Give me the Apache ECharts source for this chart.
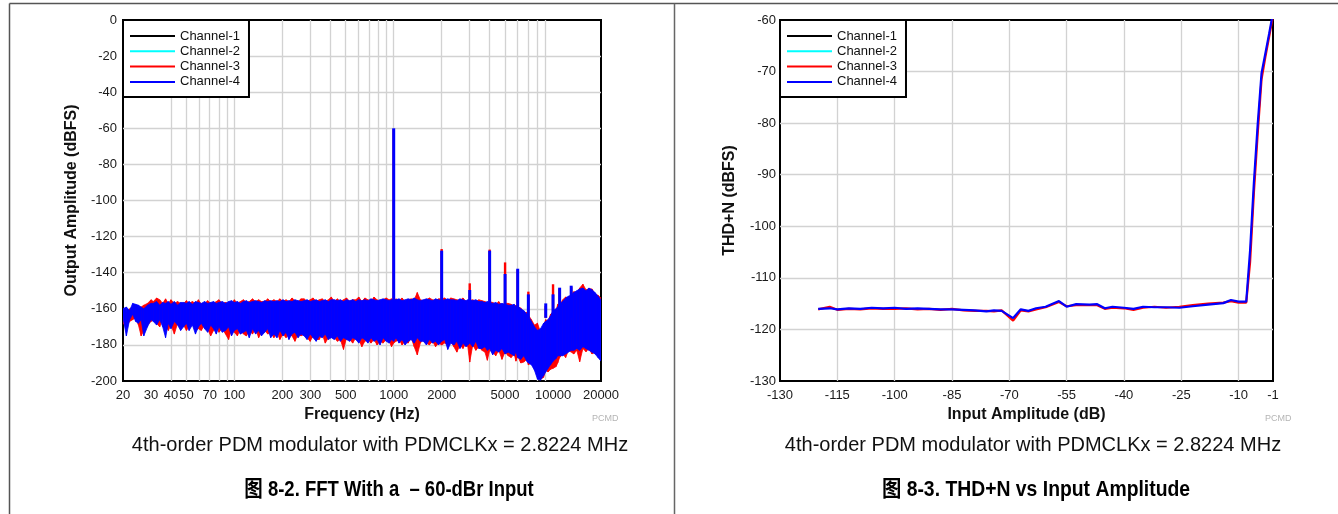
<!DOCTYPE html>
<html>
<head>
<meta charset="utf-8" />
<title>PDM FFT and THD+N</title>
<script src="https://cdn.jsdelivr.net/npm/echarts@6.0.0/dist/echarts.min.js"></script>
<style>
  html, body { margin: 0; padding: 0; background: #fff; }
  #chart { width: 1338px; height: 514px; }
</style>
</head>
<body>
<div id="chart"></div>
<script>
// ---- FFT (left) ----
// bin frequencies (Hz), and the top / bottom of each channel's noise floor at that bin (dBFS)
const fftFreq = [
  20, 21, 22, 23, 24, 25, 26, 27, 28.5, 30,
  31, 32.5, 34, 35.5, 37, 38.5, 40, 42, 44, 46,
  48, 50, 52, 54.5, 57, 59.5, 62, 65, 68, 71,
  74, 77, 80, 84, 88, 92, 96, 100, 104.5, 109,
  114, 119, 124, 130, 136, 142, 148, 155, 162, 169,
  177, 185, 193, 202, 211, 220, 230, 240, 251, 262,
  274, 286, 299, 312, 326, 341, 356, 372, 389, 406,
  424, 443, 463, 484, 506, 529, 553, 578, 604, 631,
  659, 689, 720, 752, 786, 821, 858, 897, 937, 969,
  1000, 1034, 1080, 1128, 1179, 1232, 1287, 1345, 1406, 1469,
  1535, 1604, 1676, 1752, 1831, 1913, 2000, 2090, 2184, 2282,
  2385, 2492, 2604, 2721, 2843, 2920, 3000, 3135, 3276, 3423,
  3577, 3738, 3870, 4000, 4180, 4368, 4565, 4780, 5000, 5225,
  5460, 5706, 5850, 6000, 6270, 6552, 6847, 7000, 7315, 7644,
  7988, 8347, 8723, 9000, 9300, 9650, 10000, 10450, 10700, 11000,
  11500, 12000, 12500, 13000, 13500, 14100, 14700, 15400, 16100, 16800,
  17550, 18350, 19150, 20000
];
const fftCh4Hi = [
  -160, -159, -161, -157, -157.5, -158, -159, -160, -158, -157,
  -157, -156, -158, -156.5, -157, -156, -157.5, -156, -158, -156.5,
  -156.5, -157, -156, -157.5, -156, -156.5, -157, -156, -157, -156.5,
  -156, -157, -156.5, -156, -157, -156, -155.5, -156.5, -156, -157,
  -156, -155.5, -156.5, -156, -155.5, -156, -156.5, -155.5, -156, -155.5,
  -156, -155.5, -156, -155, -156, -155.5, -156, -155, -155.5, -156,
  -155.5, -155, -156, -155.5, -155, -156, -155.5, -155, -156, -155,
  -155, -155.5, -155, -156, -155, -155.5, -155, -156, -155, -155.5,
  -155, -155.5, -154.5, -155, -155.5, -155, -154.5, -155, -155.5, -155,
  -155, -155, -154.5, -155.5, -155, -154.5, -155, -154, -155, -155.5,
  -155, -154.5, -155, -155.5, -154.5, -155, -155.5, -155, -154.5, -155,
  -155, -155.5, -154.5, -155, -155.5, -155, -155, -155.5, -155, -156,
  -156, -156.5, -156, -156.5, -157, -156.5, -157.5, -157, -157.5, -158,
  -158, -157.5, -159, -158.5, -160, -161, -163, -164, -167, -170,
  -172, -171, -168, -167, -166, -164, -161, -160, -159, -157.5,
  -156, -154, -153, -152.5, -151, -150, -149, -148.5, -150, -148.5,
  -149.5, -151, -153, -155
];
const fftCh4Lo = [
  -165, -175, -166, -163, -167, -168, -166, -175, -170, -166,
  -167, -169, -166, -170, -176, -168, -171, -167, -169, -172,
  -170, -168, -172, -169, -174, -170, -168, -171, -173, -169,
  -171, -174, -170, -173, -172, -170, -175, -172, -171, -174,
  -173, -172, -176, -171, -174, -172, -175, -173, -171, -176,
  -174, -176, -172, -175, -173, -177, -174, -173, -176, -174,
  -175, -177, -174, -176, -178, -175, -176, -174, -177, -176,
  -177, -175, -178, -176, -177, -178, -176, -177, -179, -176,
  -177, -179, -176, -178, -177, -180, -176, -178, -179, -177,
  -178, -176, -179, -177, -180, -178, -177, -179, -176, -178,
  -178, -180, -177, -179, -178, -180, -178, -177, -182.5, -179,
  -180, -178, -182, -179, -181, -180, -179, -181, -178, -182,
  -182, -181, -183, -182, -185.5, -183, -184, -182, -185, -184,
  -185, -186, -184, -187, -188, -186, -189, -190, -191, -194,
  -199, -199.5, -197, -195, -193, -191, -189, -187.5, -186, -186,
  -186, -185, -184, -183, -183, -182, -183, -181, -182, -183,
  -184, -185, -187, -189
];
const fftCh3Hi = [
  -161, -162, -160, -159, -158, -160, -159, -158, -157, -155,
  -156, -154, -155, -157, -154.5, -157, -155, -157, -156, -157,
  -157, -155.5, -157, -156, -157, -155, -157.5, -157, -155.5, -157,
  -157, -156, -155, -157, -156.5, -157, -157, -155, -157, -156,
  -155, -156.5, -156, -154.5, -156, -155, -156, -156, -154.5, -156,
  -155, -156, -154.5, -156, -155, -156, -154, -155.5, -156, -154.5,
  -154.5, -156, -155, -154, -156, -155, -154.5, -156, -155, -153.5,
  -156, -154.5, -156, -155, -154, -156, -155, -155, -153.5, -156,
  -154, -155, -156, -153.5, -155, -156, -155, -154, -155, -154.5,
  -155.5, -154.5, -155.5, -154, -156, -155, -154.5, -155, -151, -155,
  -155.5, -155, -154, -155, -155.5, -154.5, -154.5, -154, -155.5, -154,
  -154.5, -155, -155.5, -154, -156, -155.5, -155.5, -155, -156, -155,
  -155.5, -156, -157, -156, -156.5, -157.5, -156, -158, -157, -157,
  -157.5, -159, -158, -159, -159.5, -162, -162, -163.5, -166, -169,
  -168, -173, -169, -166, -167, -163, -162, -161, -157.5, -158,
  -155, -153.5, -154, -152, -150.5, -151, -148.5, -146.4, -149.5, -149,
  -149, -152, -152.5, -154
];
const fftCh3Lo = [
  -168, -170, -167, -166, -165, -169, -175, -172, -169, -167,
  -166, -168, -170, -165, -169, -172, -169, -174, -168, -170,
  -169, -172, -170, -168, -172, -171, -172, -169, -171, -175,
  -172, -170, -173, -171, -174, -177, -171, -173, -175, -171,
  -174, -175, -172, -174, -171, -176, -173, -172, -174, -173,
  -176, -173, -177, -174, -176, -174, -175, -178, -174, -175,
  -174, -176, -178, -175, -177, -177, -174, -179, -176, -175,
  -176, -178, -177, -182.5, -176, -177, -179, -176, -177, -181,
  -178, -177, -179, -177, -180, -178, -179, -177, -178, -181,
  -179, -178, -177, -180, -178, -179, -176, -181, -185.5, -179,
  -177, -179, -180, -178, -181, -179, -180, -179, -180, -178,
  -181, -184, -180, -182, -179, -181, -189.5, -180, -183, -181,
  -183, -184, -188.5, -183, -184, -186, -183, -188, -184, -186,
  -187, -185, -189, -186, -190, -189.5, -188, -191, -190, -193,
  -197, -199, -198, -194, -195, -193.5, -193, -192, -190, -187,
  -185, -187, -183, -184, -185, -183, -189.3, -182, -183.8, -182,
  -185, -184, -186, -188
];
// tone and harmonic peaks standing above the noise
const fftToneFreq = [1000, 2000, 3000, 4000, 5000, 6000, 7000, 9000, 10000, 11000, 13000];
const fftCh3Tone = [-60.5, -126.9, -145.9, -127.2, -134.3, -138.5, -150.5, -158.5, -146.4, -149, -148];
const fftCh4Tone = [-60, -127.8, -149.6, -127.8, -140.7, -137.8, -152, -157, -152, -148.3, -147.2];

const fftLabelFreqs = [20, 30, 40, 50, 70, 100, 200, 300, 500, 1000, 2000, 5000, 10000, 20000];
const fftGridFreqs = [
  30, 40, 50, 60, 70, 80, 90,
  100, 200, 300, 400, 500, 600, 700, 800, 900,
  1000, 2000, 3000, 4000, 5000, 6000, 7000, 8000, 9000, 10000
];

// ---- THD+N (right) ----
const thdInput = [
  -120, -117, -115, -112, -109, -106, -103, -100, -97, -94,
  -91, -88, -85, -82, -79, -76, -74, -72, -69, -67,
  -65, -63, -60.5, -57, -55, -52.5, -49, -47, -45, -43,
  -40, -37.5, -35, -32, -29, -25.5, -22, -18, -14, -12,
  -10, -8, -7, -6, -5, -4, -3, -2, -1
];
const thdCh3 = [
  -116.1, -115.6, -116.2, -116.0, -116.1, -115.9, -116.0, -116.0, -115.9, -116.1,
  -116.0, -116.2, -116.0, -116.3, -116.4, -116.4, -116.5, -116.3, -118.3, -116.3,
  -116.5, -116.1, -115.7, -114.7, -115.5, -115.3, -115.3, -115.3, -116.0, -115.8,
  -115.9, -116.2, -115.8, -115.6, -115.8, -115.6, -115.3, -115.0, -114.8, -114.5,
  -114.8, -114.8, -107.0, -93.5, -82.0, -71.5, -67.2, -63.2, -59.2
];
const thdCh4 = [
  -116.0, -115.9, -116.1, -115.9, -116.0, -115.8, -115.9, -115.8, -116.0, -115.9,
  -116.0, -116.1, -116.1, -116.2, -116.3, -116.5, -116.3, -116.4, -117.8, -116.1,
  -116.4, -115.9, -115.6, -114.5, -115.6, -115.1, -115.2, -115.1, -115.9, -115.6,
  -115.8, -116.0, -115.6, -115.7, -115.7, -115.8, -115.5, -115.2, -114.9, -114.3,
  -114.6, -114.6, -104.7, -91.5, -80.2, -70.3, -66.5, -62.6, -58.6
];

const channels = ["Channel-1", "Channel-2", "Channel-3", "Channel-4"];
const chColors = ["#000000", "#00ffff", "#ff0000", "#0000ff"];

const FONT = '"Liberation Sans", Arial, Helvetica, sans-serif';

const splitLine = {
  show: true,
  showMinLine: false,
  showMaxLine: false,
  lineStyle: { color: "#d2d2d2", width: 1.3 },
};
const tickLabel = { fontFamily: FONT, fontSize: 13, color: "#1a1a1a" };
const axisName = { fontFamily: FONT, fontSize: 16, fontWeight: "bold", color: "#111" };

function legendAt(left) {
  return {
    data: channels,
    orient: "vertical",
    left: left,
    top: 20,
    padding: [9.5, 9, 8.5, 7],
    itemGap: 2.3,
    itemWidth: 45,
    itemHeight: 2,
    icon: "rect",
    backgroundColor: "#fff",
    borderColor: "#000",
    borderWidth: 2,
    borderRadius: 0,
    selectedMode: false,
    textStyle: { fontFamily: FONT, fontSize: 13, color: "#111", lineHeight: 13 },
  };
}

function lineSeries(name, color, xIdx, yIdx, xs, ys) {
  return {
    name: name,
    type: "line",
    xAxisIndex: xIdx,
    yAxisIndex: yIdx,
    data: xs.map((x, i) => [x, ys[i]]),
    showSymbol: false,
    symbol: "none",
    silent: true,
    lineStyle: { color: color, width: 2.2 },
    itemStyle: { color: color },
    emphasis: { disabled: true },
  };
}

// noise floor of one channel: a filled band between the top and bottom values of neighbouring bins
function bandSeries(name, color, hi, lo) {
  const data = fftFreq.slice(0, -1).map((f, i) => [f, hi[i], lo[i], fftFreq[i + 1], hi[i + 1], lo[i + 1]]);
  return {
    name: name,
    type: "custom",
    xAxisIndex: 0,
    yAxisIndex: 0,
    silent: true,
    clip: true,
    itemStyle: { color: color },
    encode: { x: [0, 3], y: [1, 2, 4, 5] },
    data: data,
    renderItem: function (params, api) {
      const a = api.coord([api.value(0), api.value(1)]);
      const b = api.coord([api.value(3), api.value(4)]);
      const c = api.coord([api.value(3), api.value(5)]);
      const d = api.coord([api.value(0), api.value(2)]);
      return {
        type: "polygon",
        shape: { points: [a, b, c, d] },
        style: { fill: color, stroke: color, lineWidth: 0.8 },
      };
    },
  };
}

// tone / harmonic lines, from the peak down into the noise band
function toneSeries(name, color, peaks, width) {
  return {
    name: name,
    type: "custom",
    xAxisIndex: 0,
    yAxisIndex: 0,
    silent: true,
    clip: true,
    itemStyle: { color: color },
    encode: { x: 0, y: 1 },
    data: fftToneFreq.map((f, i) => [f, peaks[i]]),
    renderItem: function (params, api) {
      const top = api.coord([api.value(0), api.value(1)]);
      const base = api.coord([api.value(0), -165]);
      return {
        type: "line",
        shape: { x1: top[0], y1: top[1], x2: base[0], y2: base[1] },
        style: { stroke: color, lineWidth: width },
      };
    },
  };
}

const chart = echarts.init(document.getElementById("chart"), null, { renderer: "canvas" });

const option = {
  animation: false,
  backgroundColor: "#fff",
  grid: [
    { left: 123, top: 20, width: 478, height: 361, show: true, borderColor: "#000", borderWidth: 2 },
    { left: 780, top: 20, width: 493, height: 361, show: true, borderColor: "#000", borderWidth: 2 },
  ],
  xAxis: [
    // data axis for the FFT (log scale), kept hidden
    { type: "log", logBase: 10, min: 20, max: 20000, gridIndex: 0, position: "top", show: false },
    // visible axis for the FFT: same span in log10 units, gives labels and grid lines
    {
      type: "value",
      gridIndex: 0,
      position: "bottom",
      min: Math.log10(20),
      max: Math.log10(20000),
      name: "Frequency (Hz)",
      nameLocation: "middle",
      nameGap: 23,
      nameTextStyle: axisName,
      axisLine: { show: false },
      axisTick: { show: false, customValues: fftGridFreqs.map((f) => Math.log10(f)) },
      axisLabel: Object.assign({}, tickLabel, {
        margin: 8,
        customValues: fftLabelFreqs.map((f) => Math.log10(f)),
        formatter: (v) => String(Math.round(Math.pow(10, v))),
      }),
      splitLine: splitLine,
    },
    {
      type: "value",
      gridIndex: 1,
      position: "bottom",
      min: -130,
      max: -1,
      interval: 15,
      name: "Input Amplitude (dB)",
      nameLocation: "middle",
      nameGap: 23,
      nameTextStyle: axisName,
      axisLine: { show: false },
      axisTick: { show: false },
      axisLabel: Object.assign({}, tickLabel, { margin: 8, showMinLabel: true, showMaxLabel: true }),
      splitLine: splitLine,
    },
  ],
  yAxis: [
    {
      type: "value",
      gridIndex: 0,
      min: -200,
      max: 0,
      interval: 20,
      name: "Output Amplitude (dBFS)",
      nameLocation: "middle",
      nameGap: 43,
      nameTextStyle: axisName,
      axisLine: { show: false },
      axisTick: { show: false },
      axisLabel: Object.assign({}, tickLabel, { margin: 6 }),
      splitLine: splitLine,
    },
    {
      type: "value",
      gridIndex: 1,
      min: -130,
      max: -60,
      interval: 10,
      name: "THD+N (dBFS)",
      nameLocation: "middle",
      nameGap: 42,
      nameTextStyle: axisName,
      axisLine: { show: false },
      axisTick: { show: false },
      axisLabel: Object.assign({}, tickLabel, { margin: 4 }),
      splitLine: splitLine,
    },
  ],
  legend: [legendAt(123), legendAt(780)],
  series: [
    // THD+N first, so the legend takes its line icons from these
    lineSeries(channels[0], chColors[0], 2, 1, [], []),
    lineSeries(channels[1], chColors[1], 2, 1, [], []),
    lineSeries(channels[2], chColors[2], 2, 1, thdInput, thdCh3),
    lineSeries(channels[3], chColors[3], 2, 1, thdInput, thdCh4),
    // FFT: channels 1 and 2 sit under channels 3 and 4 and do not show
    bandSeries(channels[2], chColors[2], fftCh3Hi, fftCh3Lo),
    toneSeries(channels[2], chColors[2], fftCh3Tone, 2.4),
    bandSeries(channels[3], chColors[3], fftCh4Hi, fftCh4Lo),
    toneSeries(channels[3], chColors[3], fftCh4Tone, 3),
  ],
  graphic: [
    // panel frames
    { type: "line", shape: { x1: 9.5, y1: 3.5, x2: 1338, y2: 3.5 }, style: { stroke: "#555", lineWidth: 1.5 } },
    { type: "line", shape: { x1: 9.5, y1: 3.5, x2: 9.5, y2: 514 }, style: { stroke: "#555", lineWidth: 1.5 } },
    { type: "line", shape: { x1: 674.5, y1: 3.5, x2: 674.5, y2: 514 }, style: { stroke: "#666", lineWidth: 1.5 } },
    // small source marks
    { type: "text", x: 592, y: 414, style: { text: "PCMD", fill: "#b5b5b5", font: "9px " + FONT } },
    { type: "text", x: 1265, y: 414, style: { text: "PCMD", fill: "#b5b5b5", font: "9px " + FONT } },
    // captions
    {
      type: "text", x: 380, y: 445,
      style: { text: "4th-order PDM modulator with PDMCLKx = 2.8224 MHz", fill: "#111",
        font: "20px " + FONT, textAlign: "center", textVerticalAlign: "middle" },
    },
    {
      type: "text", x: 1033, y: 445,
      style: { text: "4th-order PDM modulator with PDMCLKx = 2.8224 MHz", fill: "#111",
        font: "20px " + FONT, textAlign: "center", textVerticalAlign: "middle" },
    },
    {
      type: "text", x: 389, y: 490, scaleX: 0.84,
      style: { text: "图 8-2. FFT With a  – 60-dBr Input", fill: "#000",
        font: "bold 22px " + FONT + ', "Noto Sans CJK SC"',
        textAlign: "center", textVerticalAlign: "middle" },
    },
    {
      type: "text", x: 1036, y: 490, scaleX: 0.88,
      style: { text: "图 8-3. THD+N vs Input Amplitude", fill: "#000",
        font: "bold 22px " + FONT + ', "Noto Sans CJK SC"',
        textAlign: "center", textVerticalAlign: "middle" },
    },
  ],
};

chart.setOption(option);
window.addEventListener("resize", function () {
  chart.resize();
});
</script>
</body>
</html>
